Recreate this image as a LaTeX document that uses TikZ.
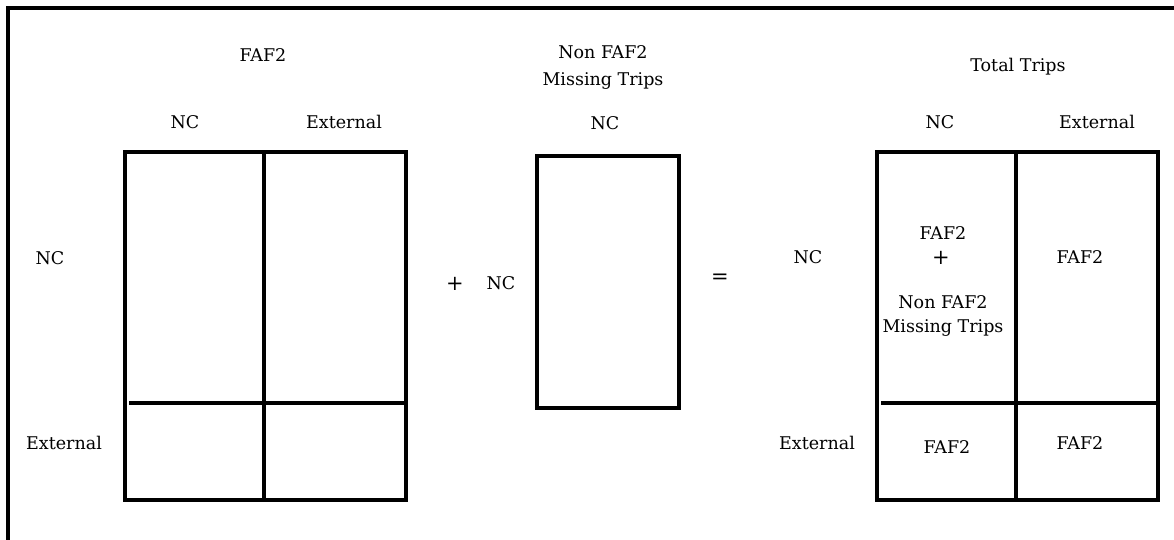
\documentclass[tikz,border=0pt]{standalone}
\usepackage{fontspec}
\setmainfont{DejaVu Serif}
\begin{document}
\begin{tikzpicture}[x=1pt,y=-1pt,
  grid/.style={line width=3.3pt},
  frame/.style={line width=3.3pt},
  lbl/.style={inner sep=0pt,font=\fontsize{17.5}{27}\selectfont},
  sym/.style={inner sep=0pt,font=\fontsize{21}{24}\selectfont}]
\useasboundingbox (0,0) rectangle (1174,540);
% outer frame (only top and left edges visible)
\draw[frame] (8,540) -- (8,8) -- (1174,8);
% left matrix
\draw[grid] (125,152) rectangle (406,500);
\draw[grid] (264,152) -- (264,500);
\draw[grid] (129,403) -- (406,403);
\node[lbl] (t1) at (263,55) {FAF2};
\node[lbl] (h1) at (185,122) {NC};
\node[lbl] (h2) at (344,122) {External};
\node[lbl] (r1) at (50,258) {NC};
\node[lbl] (r2) at (64,443) {External};
% middle
\node[lbl,align=center] (t2) at (603,67) {Non FAF2\\Missing Trips};
\node[lbl] (h3) at (605,123) {NC};
\draw[grid] (537,156) rectangle (679,408);
\node[sym] (plus) at (455,284) {+};
\node[lbl] (r3) at (501,283) {NC};
\node[sym] (eq) at (720,279) {=};
% right matrix
\node[lbl] (t3) at (1018,67) {Total Trips};
\node[lbl] (h4) at (940,122) {NC};
\node[lbl] (h5) at (1097,122) {External};
\node[lbl] (r4) at (808,257) {NC};
\node[lbl] (r5) at (817,443) {External};
\draw[grid] (877,152) rectangle (1158,500);
\draw[grid] (1016,152) -- (1016,500);
\draw[grid] (881,403) -- (1158,403);
\node[lbl] (c1) at (943,233) {FAF2};
\node[sym] (c1p) at (941,258) {+};
\node[lbl] (c1n) at (943,302) {Non FAF2};
\node[lbl,fill=white,inner ysep=1pt,inner xsep=0pt] (c1m) at (943,328) {Missing Trips};
\node[lbl] (c2) at (1080,257) {FAF2};
\node[lbl] (c3) at (947,447) {FAF2};
\node[lbl] (c4) at (1080,443) {FAF2};
\end{tikzpicture}
\end{document}
